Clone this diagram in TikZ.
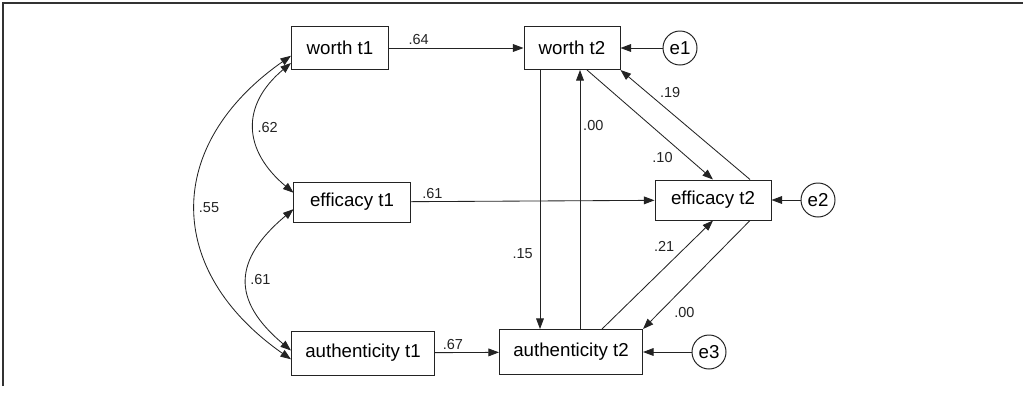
\documentclass[tikz,border=0pt]{standalone}
\usepackage{fontspec}
\setmainfont{Liberation Sans}
\usepackage{xcolor}
\usetikzlibrary{arrows.meta,positioning,calc}
\definecolor{linegray}{RGB}{35,35,35}
\definecolor{framegray}{RGB}{50,50,50}

\begin{document}
\begin{tikzpicture}[
    x=0.025cm, y=-0.025cm,
    var/.style={rectangle, draw=linegray, line width=0.7pt, minimum height=1.075cm, inner sep=2pt, font=\fontsize{13.3}{15}\selectfont},
    err/.style={circle, draw=linegray, line width=0.7pt, minimum size=0.85cm, inner sep=0pt, font=\fontsize{13.3}{15}\selectfont},
    coef/.style={font=\fontsize{10.3}{12}\selectfont, inner sep=2pt, text=linegray},
    arrow/.style={draw=linegray, line width=0.6pt, -{Triangle[length=7.5pt,width=5.5pt]}},
    both/.style={draw=linegray, line width=0.6pt, {Triangle[length=7.5pt,width=5.5pt]}-{Triangle[length=7.5pt,width=5.5pt]}}
]
\useasboundingbox (0,0) rectangle (1023,396);
\draw[framegray, line width=1.3pt] (3,386) -- (3,3) -- (1023,3);

% time 1
\node[var, minimum width=2.425cm] (wt1) at (340,48) {worth t1};
\node[var, minimum width=2.9cm, minimum height=1cm] (et1) at (352,202) {efficacy t1};
\node[var, minimum width=3.575cm, minimum height=1.1cm] (at1) at (363,353) {authenticity t1};

% time 2
\node[var, minimum width=2.4cm] (wt2) at (572,48) {worth t2};
\node[var, minimum width=2.9cm, minimum height=1cm] (et2) at (713,200) {efficacy t2};
\node[var, minimum width=3.575cm, minimum height=1.125cm] (at2) at (571,352) {authenticity t2};

% errors
\node[err] (e1) at (680,48) {e1};
\node[err] (e2) at (818,200) {e2};
\node[err] (e3) at (709,352) {e3};

% stability paths
\draw[arrow] (wt1) -- node[coef, above, pos=0.22] {.64} (wt2);
\draw[arrow] (et1) -- node[coef, above, pos=0.09] {.61} (et2);
\draw[arrow] (at1) -- node[coef, above, pos=0.28] {.67} (at2);

% cross paths at t2
\draw[arrow] ([xshift=-0.8cm]wt2.south) -- node[coef, left=0.1cm, pos=0.71] {.15} ([xshift=-0.8cm]wt2.south |- at2.north);
\draw[arrow] ([xshift=0.2cm]wt2.south |- at2.north) -- node[coef, right, pos=0.785] {.00} ([xshift=0.2cm]wt2.south);
\draw[arrow] ([xshift=0.375cm]wt2.south) -- node[coef, left=0.3cm, pos=0.8] {.10} (et2.north);
\draw[arrow] ([xshift=0.925cm]et2.north) -- node[coef, above right, pos=0.72] {.19} (wt2.south east);
\draw[arrow] ([xshift=0.775cm]at2.north) -- node[coef, above left, pos=0.68] {.21} (et2.south);
\draw[arrow] ([xshift=0.925cm]et2.south) -- node[coef, right=0.3cm, pos=0.85] {.00} (at2.north east);

% residuals
\draw[arrow] (e1) -- (wt2);
\draw[arrow] (e2) -- (et2);
\draw[arrow] (e3) -- (at2);

% correlations at t1
\draw[both] (wt1.197) to[out=220, in=140, looseness=1.3] node[coef, right, pos=0.5] {.62} (et1.171);
\draw[both] (et1.187) to[out=220, in=140, looseness=1.42] node[coef, right, pos=0.5] {.61} (at1.178);
\draw[both] (wt1.189) to[out=215, in=145, looseness=1.31] node[coef, right, pos=0.5] {.55} (at1.185);

\end{tikzpicture}
\end{document}
